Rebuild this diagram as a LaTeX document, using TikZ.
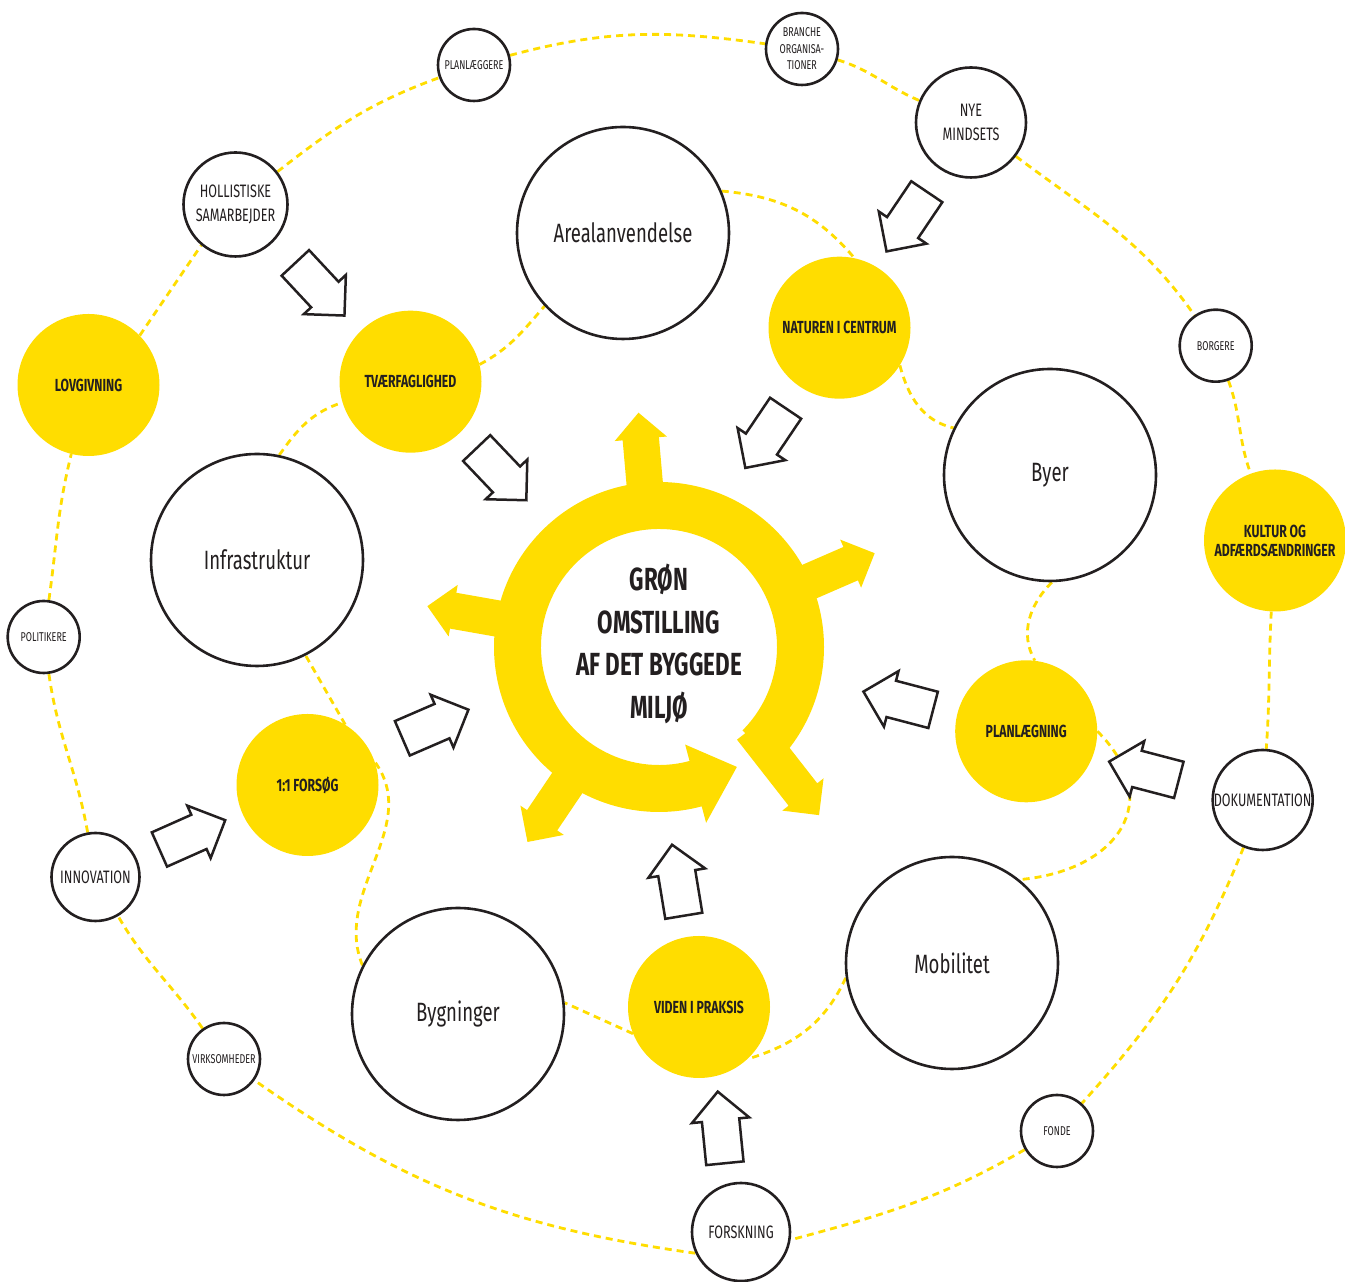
\documentclass[tikz,border=0pt]{standalone}
\usepackage{fontspec}
\setmainfont{Fira Sans}[FakeStretch=0.7]
\usetikzlibrary{shapes.arrows,backgrounds,calc}
\definecolor{gul}{HTML}{FFDD00}
\definecolor{ink}{HTML}{231F20}
\tikzset{
  stor/.style={circle,draw=ink,line width=2.6pt,fill=white,minimum size=212pt,inner sep=0pt,text=ink,font=\fontsize{26.5}{30}\selectfont},
  gulcirk/.style={circle,fill=gul,minimum size=142pt,inner sep=0pt,align=center,text=ink,font=\bfseries\fontsize{17.5}{19}\selectfont},
  lille/.style={circle,draw=ink,line width=2.6pt,fill=white,minimum size=#1,inner sep=0pt,align=center,text=ink},
  lilletekst/.style={font=\fontsize{12.8}{16.5}\selectfont},
  mellemtekst/.style={font=\fontsize{18}{24}\selectfont},
  midt/.style={align=center,text=ink,font=\bfseries\fontsize{32}{42.5}\selectfont},
  prik/.style={draw=gul,line width=2.8pt,dash pattern=on 7pt off 5pt},
  hulpil/.style={single arrow,draw=ink,fill=white,line width=2.5pt,minimum height=72pt,inner xsep=0pt,inner ysep=17.5pt,
    single arrow head extend=10pt,single arrow head indent=0pt,anchor=tail,rotate=#1},
  udpil/.style={single arrow,fill=gul,minimum height=110pt,inner xsep=0pt,inner ysep=18pt,
    single arrow head extend=8pt,anchor=tail,rotate=#1},
}
\begin{document}
\begin{tikzpicture}[x=1pt,y=1pt]
  \useasboundingbox (0,0) rectangle (1345,1282);
  % outer ring of actors
  \node[lille=72pt,lilletekst] (planlaeg) at (474,1217) {PLANLÆGGERE};
  \node[lille=72pt,lilletekst] (branche) at (802,1233) {BRANCHE\\ORGANISA-\\TIONER};
  \node[lille=110pt,mellemtekst] (nye) at (971,1159.5) {NYE\\MINDSETS};
  \node[lille=104pt,mellemtekst] (hollist) at (235.5,1077.5) {HOLLISTISKE\\SAMARBEJDER};
  \node[lille=72pt,lilletekst] (borgere) at (1215.7,936.3) {BORGERE};
  \node[gulcirk] (kultur) at (1275,741.5) {KULTUR OG\\ADFÆRDSÆNDRINGER};
  \node[lille=100pt,mellemtekst] (doku) at (1262.7,482) {DOKUMENTATION};
  \node[lille=72pt,lilletekst] (fonde) at (1057,151) {FONDE};
  \node[lille=98pt,mellemtekst] (forsk) at (741,50) {FORSKNING};
  \node[lille=72pt,lilletekst] (virk) at (224,223) {VIRKSOMHEDER};
  \node[lille=88pt,mellemtekst] (innov) at (95.5,405) {INNOVATION};
  \node[lille=72pt,lilletekst] (politik) at (43.7,645) {POLITIKERE};
  \node[gulcirk] (lovgiv) at (88.5,897) {LOVGIVNING};
  % inner ring of themes
  \node[stor] (areal) at (623,1049) {Arealanvendelse};
  \node[gulcirk] (natur) at (839.5,954.3) {NATUREN I CENTRUM};
  \node[stor] (byer) at (1050,807) {Byer};
  \node[gulcirk] (planl) at (1026.2,550.7) {PLANLÆGNING};
  \node[stor] (mobil) at (952,319) {Mobilitet};
  \node[gulcirk] (viden) at (699,275) {VIDEN I PRAKSIS};
  \node[stor] (bygn) at (458,268) {Bygninger};
  \node[gulcirk] (forsog) at (307.5,497) {1:1 FORSØG};
  \node[stor] (infra) at (257,722) {Infrastruktur};
  \node[gulcirk] (tvaer) at (410.5,900.3) {TVÆRFAGLIGHED};
  % centre wheel
  \coordinate (C) at (659,635);
  \fill[gul] ($(C)+(-45:165)$) arc[start angle=-45,end angle=285,radius=165pt]
    -- ($(C)+(285:182)$) -- ($(C)+(303:143)$) -- ($(C)+(285:101)$)
    -- ($(C)+(285:118)$) arc[start angle=285,end angle=-45,radius=118pt] -- cycle;
  \foreach \a [count=\i] in {95,23.5,170,236}
    \node[udpil=\a] (ud\i) at ($(C)+(\a:125)$) {};
  \node[udpil=-52] (ud5) at (751.2,553.7) {};
  \node[midt] (gron) at ($(C)+(0,3)$) {GRØN\\OMSTILLING\\AF DET BYGGEDE\\MILJØ};
  % hollow arrows
  \foreach \x/\y/\a [count=\i] in {294.5/1020/-47,475.8/834.8/-46.4,927.5/1091.3/-124,786.3/874.8/-124,
      934.3/571.8/165.3,1180/501.8/165.3,684/365/99.4,725/117.5/95.7,158.3/432/24,401.2/543.2/23.4}
    \node[hulpil=\a] (hul\i) at (\x,\y) {};
  % dashed links
  \begin{scope}[on background layer]
    \draw[prik] (hollist) to[out=38,in=200] (planlaeg)
      (planlaeg) to[out=15,in=172] (branche)
      (branche) to[out=-17,in=157] (nye)
      (nye) to[out=-37,in=125] (borgere)
      (borgere) to[out=-70,in=110] (kultur)
      (kultur) to[out=-93,in=86] (doku)
      (doku) to[out=-112,in=48] (fonde)
      (fonde) to[out=-150,in=15] (forsk.-9)
      (forsk.-155) to[out=172,in=-35] (virk)
      (virk) to[out=125,in=-60] (innov)
      (innov) to[out=100,in=-82] (politik)
      (politik) to[out=82,in=-104] (lovgiv)
      (lovgiv.44) -- (hollist.230);
    \draw[prik] (areal.23) to[out=-5,in=130] (natur.78);
    \draw[prik] (natur.-32) to[out=-75,in=167] (byer.154);
    \draw[prik] (byer.-89) to[out=-135,in=120] (planl.83);
    \draw[prik] (planl.0) to[out=-45,in=5,looseness=1.5] (mobil.51);
    \draw[prik] (mobil.188) to[out=-115,in=17] (viden.-47);
    \draw[prik] (viden.202) -- (bygn.6);
    \draw[prik] (bygn.153) to[out=112,in=-54] (forsog.19);
    \draw[prik] (forsog.58) -- (infra.-63);
    \draw[prik] (infra.78) to[out=55,in=198] (tvaer.197);
    \draw[prik] (tvaer.14) to[out=28,in=229] (areal.223);
  \end{scope}
\end{tikzpicture}
\end{document}
